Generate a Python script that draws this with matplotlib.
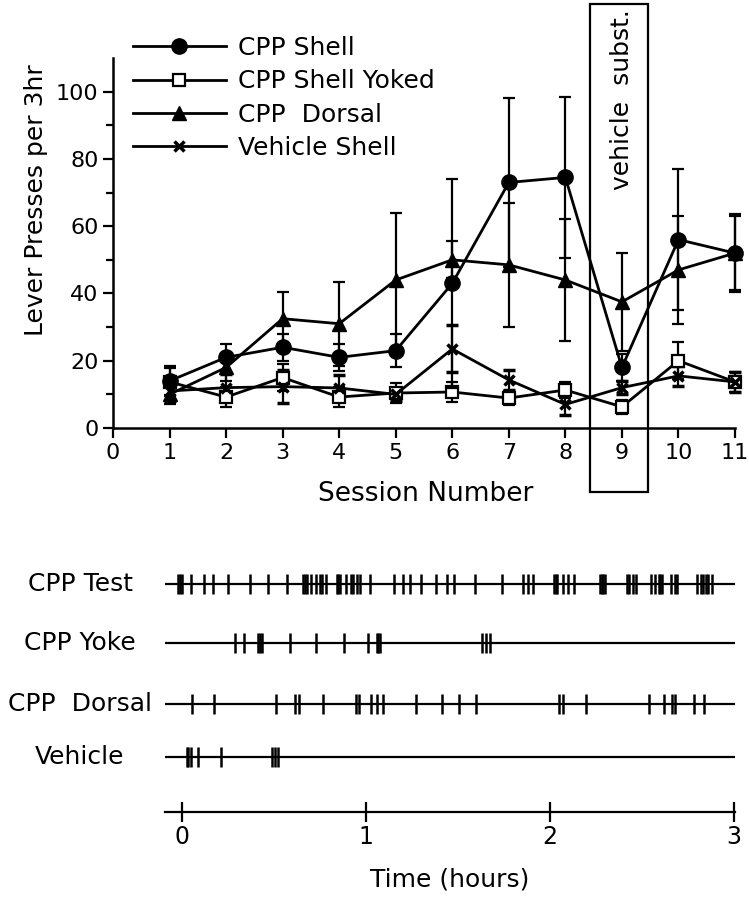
import matplotlib
matplotlib.use("Agg")
import matplotlib.pyplot as plt
import matplotlib.patches as patches
import matplotlib.transforms as mtransforms
from matplotlib.lines import Line2D

plt.rcParams['font.family'] = ['DejaVu Sans']

# Sesiones y medias (presiones de palanca por 3 h)
sesiones = [1, 2, 3, 4, 5, 6, 7, 8, 9, 10, 11]
cpp_shell = [14, 21, 24, 21, 23, 43, 73, 74.5, 18, 56, 52]
cpp_shell_err = [4.5, 4, 4, 4, 5, 31, 25, 24, 4, 21, 11.5]
cpp_yoked = [13.7, 9.2, 15, 9.2, 10.4, 10.7, 8.9, 11.3, 6.3, 20, 13.7]
cpp_yoked_err = [4, 3, 4, 3, 3, 3, 2, 2.5, 2, 5.5, 3]
cpp_dorsal = [10, 18, 32.5, 31, 44, 50, 48.5, 44, 37.5, 47, 52]
cpp_dorsal_err = [3, 4, 8, 12.5, 20, 5.5, 18.5, 18, 14.5, 16, 11]
vehicle_shell = [11, 12, 12.3, 11.9, 10, 23.5, 14.3, 7, 12, 15.5, 13.7]
vehicle_shell_err = [3, 4, 5, 4, 2, 7, 3, 3, 2, 3, 3]

# Registros de eventos (horas)
ev_test = [-0.02, -0.01, 0.0, 0.05, 0.12, 0.17, 0.25, 0.37, 0.47, 0.57,
           0.66, 0.67, 0.68, 0.70, 0.73, 0.75, 0.76, 0.78, 0.84, 0.85, 0.86,
           0.89, 0.92, 0.93, 0.95, 0.97, 1.02, 1.15, 1.20, 1.24, 1.30, 1.38,
           1.44, 1.48, 1.59, 1.74, 1.855, 1.88, 1.905, 2.02, 2.03, 2.04, 2.07,
           2.10, 2.13, 2.27, 2.28, 2.29, 2.30, 2.42, 2.43, 2.45, 2.47, 2.55,
           2.57, 2.59, 2.60, 2.61, 2.66, 2.68, 2.69, 2.80, 2.82, 2.83, 2.85,
           2.86, 2.88]
ev_yoke = [0.288, 0.339, 0.415, 0.424, 0.433, 0.587, 0.728, 0.882, 1.013,
           1.058, 1.067, 1.076, 1.629, 1.65, 1.674]
ev_dorsal = [0.056, 0.176, 0.511, 0.614, 0.637, 0.768, 0.946, 0.964, 1.026,
             1.061, 1.094, 1.272, 1.411, 1.505, 1.598, 2.051, 2.069, 2.196,
             2.54, 2.62, 2.661, 2.679, 2.783, 2.837]
ev_vehicle = [0.029, 0.035, 0.047, 0.089, 0.212, 0.487, 0.505, 0.523]
filas = ['CPP Test', 'CPP Yoke', 'CPP  Dorsal', 'Vehicle']

W, H = 749, 900
fig = plt.figure(figsize=(W / 100, H / 100), dpi=100)
fs = 16

# ---- panel superior ----
ax = fig.add_axes([113 / W, 1 - 428 / H, (735 - 113) / W, (428 - 58) / H])
estilo = dict(color='black', lw=2.0, elinewidth=1.6, capsize=4, capthick=1.6)
series = [
    (cpp_yoked, cpp_yoked_err, dict(marker='s', ms=9, mfc='white', mec='black', mew=1.6), 3),
    (vehicle_shell, vehicle_shell_err, dict(marker='x', ms=7, mew=2.5), 3),
    (cpp_dorsal, cpp_dorsal_err, dict(marker='^', ms=10, mfc='black', mec='black'), 4),
    (cpp_shell, cpp_shell_err, dict(marker='o', ms=11, mfc='black', mec='black'), 5),
]
for vals, errs, mk, z in series:
    cont = ax.errorbar(sesiones, vals, yerr=errs, zorder=z, **mk, **estilo)
    for art in cont.get_children():
        art.set_clip_on(False)

ax.set_xlim(0, 11)
ax.set_ylim(0, 110)
ax.set_xticks(range(0, 12))
ax.set_yticks(range(0, 101, 20))
ax.set_yticks(range(10, 110, 20), minor=True)
ax.tick_params(axis='both', labelsize=fs, width=1.6, length=7, direction='out')
ax.tick_params(axis='y', which='minor', width=1.6, length=5)
for s in ['top', 'right']:
    ax.spines[s].set_visible(False)
for s in ['left', 'bottom']:
    ax.spines[s].set_linewidth(1.8)
ax.set_ylabel('Lever Presses per 3hr', fontsize=18)
ax.yaxis.set_label_coords(-0.105, 0.615)
ax.set_xlabel('Session Number', fontsize=19)
ax.xaxis.set_label_coords(0.503, -0.142)

# caja de sustitucion por vehiculo
caja = patches.Rectangle((8.44, -19), 1.03, 145, fill=False, lw=1.6,
                         ec='black', clip_on=False, zorder=6)
ax.add_patch(caja)
ax.text(9.0, 97.5, 'vehicle  subst.', rotation=90, ha='center', va='center',
        fontsize=18, clip_on=False)

leyenda = [
    Line2D([], [], color='black', lw=2.0, marker='o', ms=11, label='CPP Shell'),
    Line2D([], [], color='black', lw=2.0, marker='s', ms=9, mfc='white', mew=1.6,
           label='CPP Shell Yoked'),
    Line2D([], [], color='black', lw=2.0, marker='^', ms=10, label='CPP  Dorsal'),
    Line2D([], [], color='black', lw=2.0, marker='x', ms=7, mew=2.5,
           label='Vehicle Shell'),
]
ax.legend(handles=leyenda, loc='upper left', bbox_to_anchor=(133 / W, 1 - 36 / H),
          bbox_transform=fig.transFigure, frameon=False, fontsize=18,
          handlelength=3.7, handletextpad=0.5, labelspacing=0.37,
          borderpad=0, borderaxespad=0)

# ---- registros de eventos ----
ax2 = fig.add_axes([165 / W, 1 - 812 / H, (735 - 165) / W, (812 - 561) / H])
x0, x1 = (165 - 182) / 184, (735 - 182) / 184
ax2.set_xlim(x0, x1)
ax2.set_ylim(-0.953, 3.4)
eventos = [ev_test, ev_yoke, ev_dorsal, ev_vehicle]
posiciones = [3, 1.98, 0.92, 0]
ax2.eventplot(eventos, lineoffsets=posiciones, linelengths=0.34,
              colors='black', linewidths=1.8)
ax2.hlines(posiciones, x0, x1, colors='black', lw=1.6)
trans = mtransforms.blended_transform_factory(fig.transFigure, ax2.transData)
for nombre, p in zip(filas, posiciones):
    ax2.text(80 / W, p, nombre, transform=trans, ha='center', va='center',
             fontsize=18)
for s in ['top', 'right', 'left']:
    ax2.spines[s].set_visible(False)
ax2.spines['bottom'].set_linewidth(1.6)
ax2.set_yticks([])
ax2.set_xticks([0, 1, 2, 3])
ax2.tick_params(axis='x', direction='inout', length=14, width=1.6,
                labelsize=fs + 1, pad=2)
ax2.set_xlabel('Time (hours)', fontsize=18, labelpad=14)

fig.savefig('out.png', dpi=100)
